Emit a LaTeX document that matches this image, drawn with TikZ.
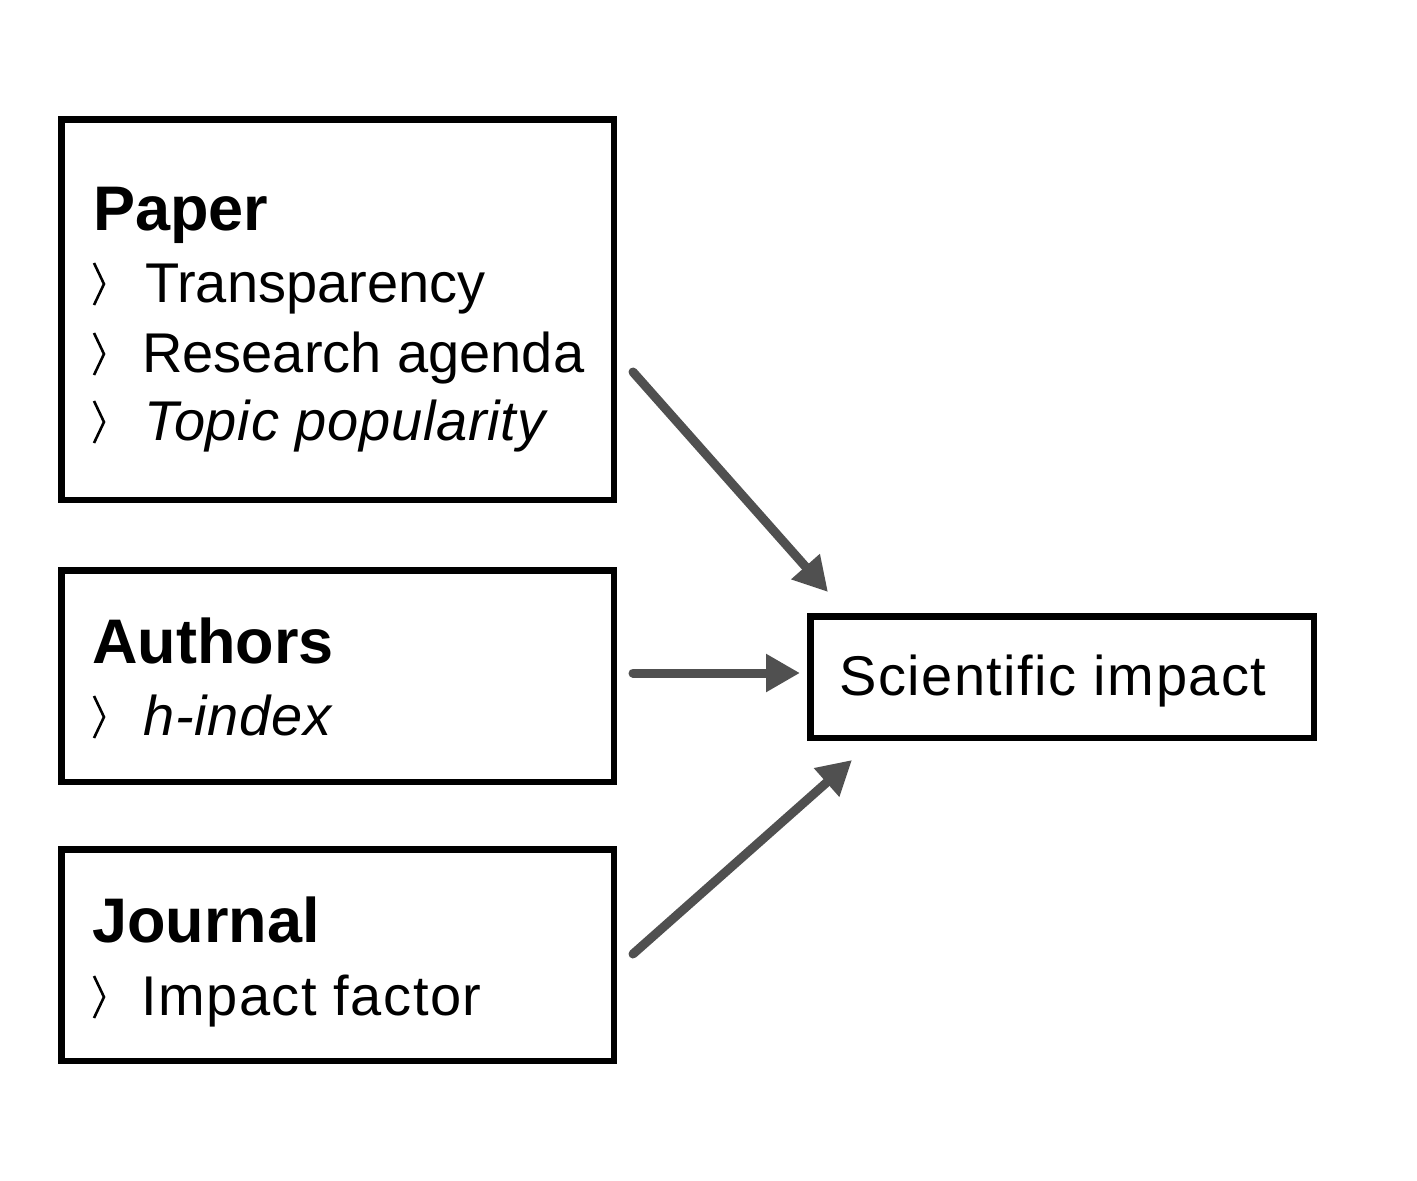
\documentclass[tikz,border=0pt]{standalone}
\usepackage{fontspec}
\setmainfont{Liberation Sans}
\usetikzlibrary{arrows.meta}
\definecolor{arrowgray}{HTML}{505050}
\tikzset{
  box/.style={draw=black, line width=6.5pt, rectangle, inner sep=0pt, outer sep=0pt, anchor=north west},
  head/.style={anchor=base west, inner sep=0pt, font=\fontsize{63}{70}\selectfont\bfseries},
  item/.style={anchor=base west, inner sep=0pt, font=\fontsize{56}{64}\selectfont},
  itemit/.style={item, font=\fontsize{56}{64}\selectfont\itshape\addfontfeature{LetterSpace=1.4}},
  wide/.style={item, font=\fontsize{56}{64}\selectfont\addfontfeature{LetterSpace=2.7}},
  bullet/.style={draw=black, line width=2.6pt},
  conn/.style={draw=arrowgray, line width=9pt, line cap=round, -{Triangle[length=34pt,width=36pt]}}
}
\begin{document}
\begin{tikzpicture}[x=1pt,y=-1pt]
\useasboundingbox[fill=white] (0,0) rectangle (1417,1181);
% boxes
\node[box, minimum width=552.5pt, minimum height=380.5pt] (paper) at (61.25,119.25) {};
\node[box, minimum width=552.5pt, minimum height=211.5pt] (authors) at (61.25,570.25) {};
\node[box, minimum width=552.5pt, minimum height=211.5pt] (journal) at (61.25,849.25) {};
\node[box, minimum width=503.5pt, minimum height=121.5pt] (impact) at (810.25,616.25) {};
% texts
\node[head] (tpaper) at (93,230) {Paper};
\node[item] (t1) at (145,302) {Transparency};
\node[item] (t2) at (142,372) {Research agenda};
\node[itemit] (t3) at (144,440) {Topic popularity};
\node[head] (tauthors) at (92,663) {Authors};
\node[itemit] (t4) at (143,735) {h-index};
\node[head] (tjournal) at (92,942) {Journal};
\node[wide] (t5) at (141,1015) {Impact factor};
\node[wide] (timpact) at (839,695) {Scientific impact};
% bullets
\foreach \b in {302,372,440,735,1015}{
  \draw[bullet] (94,\b-39) -- (104,\b-18) -- (94,\b+3);
}
% connector ends
\coordinate (s1) at (633,372);
\coordinate (e1) at (828,592);
\coordinate (s2) at (633,673);
\coordinate (e2) at (800,673);
\coordinate (s3) at (633,954);
\coordinate (e3) at (852,760);
\draw[conn] (s1) -- (e1);
\draw[conn] (s2) -- (e2);
\draw[conn] (s3) -- (e3);
\end{tikzpicture}
\end{document}
